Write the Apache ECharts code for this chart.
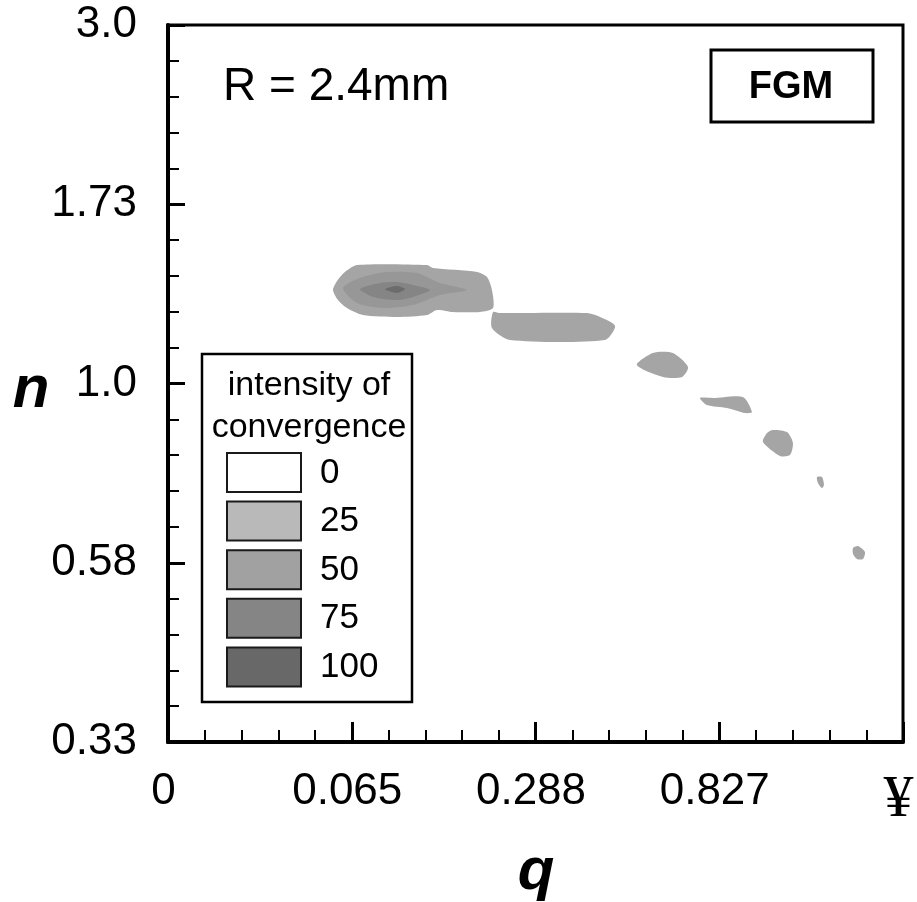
<!DOCTYPE html>
<html>
<head>
<meta charset="utf-8">
<script src="https://cdn.jsdelivr.net/npm/echarts@6/dist/echarts.min.js"></script>
<style>html,body{margin:0;padding:0;background:#fff}#c{width:917px;height:902px}</style>
</head>
<body>
<div id="c"></div>
<script>
// Axis tick labels (axis positions 0..4 map to these labels)
const xTickLabels = ['0', '0.065', '0.288', '0.827', '¥'];
const yTickLabels = ['0.33', '0.58', '1.0', '1.73', '3.0'];

// Contour levels and their fills
const levelNames = ['0', '25', '50', '75', '100'];
const levelColors = ['#ffffff', '#b9b9b9', '#a1a1a1', '#858585', '#686868'];

// Contour regions (in axis units)
const mainOuter = [[0.898,2.522],[0.925,2.466],[0.974,2.421],[1.061,2.382],[1.246,2.371],[1.410,2.382],[1.464,2.410],[1.551,2.399],[1.698,2.399],[1.769,2.421],[1.763,2.522],[1.736,2.594],[1.682,2.622],[1.442,2.644],[1.410,2.661],[1.029,2.661],[0.963,2.622],[0.920,2.572]];
const mainMid = [[0.952,2.533],[1.029,2.449],[1.170,2.421],[1.333,2.438],[1.480,2.494],[1.627,2.522],[1.480,2.561],[1.355,2.616],[1.192,2.622],[1.045,2.589]];
const mainInner = [[1.045,2.527],[1.116,2.483],[1.246,2.466],[1.333,2.483],[1.426,2.522],[1.333,2.550],[1.246,2.566],[1.154,2.561]];
const mainCore = [[1.181,2.527],[1.246,2.544],[1.290,2.527],[1.246,2.505]];
const blob2 = [[1.769,2.399],[1.807,2.393],[2.280,2.393],[2.351,2.371],[2.433,2.321],[2.378,2.243],[1.861,2.243],[1.763,2.310]];
const blob3 = [[2.552,2.103],[2.639,2.170],[2.748,2.170],[2.830,2.092],[2.797,2.036],[2.694,2.036]];
const blob4 = [[2.895,1.919],[2.966,1.919],[3.129,1.925],[3.178,1.841],[3.140,1.835],[3.042,1.863],[2.933,1.880]];
const blob5 = [[3.260,1.724],[3.293,1.741],[3.369,1.729],[3.401,1.668],[3.385,1.601],[3.331,1.596],[3.238,1.674]];
const blob6 = [[3.532,1.478],[3.559,1.478],[3.570,1.434],[3.559,1.417],[3.537,1.445]];
const blob7 = [[3.728,1.082],[3.755,1.093],[3.793,1.060],[3.782,1.021],[3.750,1.021],[3.728,1.049]];

const regionFills = ['#a5a5a5', '#979797', '#858585', '#6c6c6c'];
const regions = [
  { pts: mainOuter, fill: 0 }, { pts: blob2, fill: 0 }, { pts: blob3, fill: 0 },
  { pts: blob4, fill: 0 }, { pts: blob5, fill: 0 }, { pts: blob6, fill: 0 }, { pts: blob7, fill: 0 },
  { pts: mainMid, fill: 1 }, { pts: mainInner, fill: 2 }, { pts: mainCore, fill: 3 }
];

const FONT = 'Liberation Sans, Arial, sans-serif';
const chart = echarts.init(document.getElementById('c'), null, { renderer: 'canvas' });

const legendGraphics = [
  { type: 'rect', shape: { x: 202, y: 354, width: 210, height: 348 }, style: { fill: '#fff', stroke: '#000', lineWidth: 2.5 }, z: 100 },
  { type: 'text', x: 309, y: 386, style: { text: 'intensity of', font: '34px ' + FONT, fill: '#000', textAlign: 'center', textVerticalAlign: 'middle' }, z: 101 },
  { type: 'text', x: 309, y: 428, style: { text: 'convergence', font: '34px ' + FONT, fill: '#000', textAlign: 'center', textVerticalAlign: 'middle' }, z: 101 }
];
levelNames.forEach((name, i) => {
  const top = 453 + i * 48.6;
  legendGraphics.push({ type: 'rect', shape: { x: 227, y: top, width: 74, height: 39 }, style: { fill: levelColors[i], stroke: '#1a1a1a', lineWidth: 2 }, z: 101 });
  legendGraphics.push({ type: 'text', x: 320, y: top + 20, style: { text: name, font: '35px ' + FONT, fill: '#000', textAlign: 'left', textVerticalAlign: 'middle' }, z: 101 });
});

const option = {
  backgroundColor: '#fff',
  animation: false,
  grid: { left: 168, top: 25, width: 735, height: 717, show: true, borderColor: '#000', borderWidth: 3, backgroundColor: 'transparent' },
  xAxis: {
    type: 'value', min: 0, max: 4, interval: 1,
    axisLine: { show: true, onZero: false, lineStyle: { color: '#000', width: 4 } },
    axisTick: { show: true, inside: true, length: 20, lineStyle: { color: '#000', width: 3 } },
    minorTick: { show: true, splitNumber: 5, length: 12, lineStyle: { color: '#000', width: 2 } },
    splitLine: { show: false },
    axisLabel: {
      margin: 28, color: '#000', fontSize: 44, fontFamily: FONT, padding: [0, 9, 0, 0],
      formatter: v => { const s = xTickLabels[Math.round(v)]; return s === '¥' ? '{y|¥}' : s; },
      rich: { y: { fontFamily: 'Liberation Serif, Times New Roman, serif', fontSize: 60, color: '#000' } }
    }
  },
  yAxis: {
    type: 'value', min: 0, max: 4, interval: 1,
    axisLine: { show: true, onZero: false, lineStyle: { color: '#000', width: 4 } },
    axisTick: { show: true, inside: true, length: 17, lineStyle: { color: '#000', width: 3 } },
    minorTick: { show: true, splitNumber: 5, length: 11, lineStyle: { color: '#000', width: 2 } },
    splitLine: { show: false },
    axisLabel: { margin: 31, color: '#000', fontSize: 44, fontFamily: FONT, formatter: v => yTickLabels[Math.round(v)] }
  },
  series: [{
    type: 'custom',
    coordinateSystem: 'cartesian2d',
    clip: true,
    data: regions.map(r => r.pts[0]),
    renderItem: (params, api) => {
      const r = regions[params.dataIndex];
      return {
        type: 'polygon',
        shape: { points: r.pts.map(p => api.coord(p)), smooth: 0.25 },
        style: { fill: regionFills[r.fill], stroke: null }
      };
    },
    z: 2
  }],
  graphic: [
    { type: 'text', x: 31, y: 390, style: { text: 'n', font: 'italic bold 60px ' + FONT, fill: '#000', textAlign: 'center', textVerticalAlign: 'middle' } },
    { type: 'text', x: 536, y: 872, style: { text: 'q', font: 'italic bold 60px ' + FONT, fill: '#000', textAlign: 'center', textVerticalAlign: 'middle' } },
    { type: 'text', x: 223, y: 87, style: { text: 'R = 2.4mm', font: '46px ' + FONT, fill: '#000', textAlign: 'left', textVerticalAlign: 'middle' } },
    { type: 'rect', shape: { x: 711, y: 50, width: 162, height: 72 }, style: { fill: '#fff', stroke: '#000', lineWidth: 3 } },
    { type: 'text', x: 791, y: 88, style: { text: 'FGM', font: 'bold 38px ' + FONT, fill: '#000', textAlign: 'center', textVerticalAlign: 'middle' } }
  ].concat(legendGraphics)
};
chart.setOption(option);
</script>
</body>
</html>
